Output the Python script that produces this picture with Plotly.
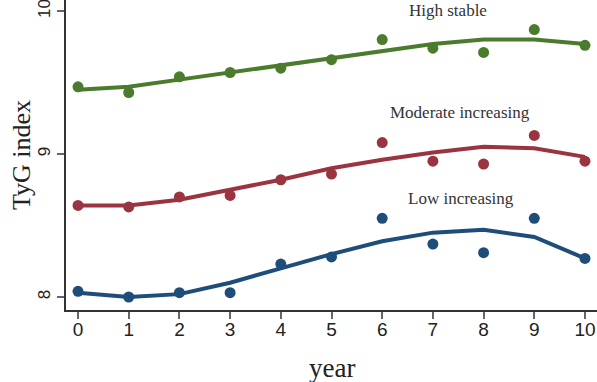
import plotly.graph_objects as go

years = list(range(11))

high_obs = [9.47, 9.43, 9.54, 9.57, 9.60, 9.66, 9.80, 9.74, 9.71, 9.87, 9.76]
high_fit = [9.45, 9.47, 9.52, 9.57, 9.62, 9.67, 9.72, 9.77, 9.80, 9.80, 9.77]

mod_obs = [8.64, 8.63, 8.70, 8.71, 8.82, 8.86, 9.08, 8.95, 8.93, 9.13, 8.95]
mod_fit = [8.64, 8.64, 8.68, 8.75, 8.82, 8.90, 8.96, 9.01, 9.05, 9.04, 8.98]

low_obs = [8.04, 8.00, 8.03, 8.03, 8.23, 8.28, 8.55, 8.37, 8.31, 8.55, 8.27]
low_fit = [8.03, 8.00, 8.02, 8.10, 8.20, 8.30, 8.39, 8.45, 8.47, 8.42, 8.27]

labels = ["High stable", "Moderate increasing", "Low increasing"]
label_x = [7.30, 7.53, 7.55]
label_y = [10.007, 9.287, 8.692]

colors = ["#4b7b2c", "#9b3441", "#1f4d7a"]

fig = go.Figure()
for obs, fit, c in [(high_obs, high_fit, colors[0]),
                    (mod_obs, mod_fit, colors[1]),
                    (low_obs, low_fit, colors[2])]:
    fig.add_trace(go.Scatter(x=years, y=fit, mode="lines",
                             line=dict(color=c, width=4), showlegend=False))
    fig.add_trace(go.Scatter(x=years, y=obs, mode="markers",
                             marker=dict(color=c, size=11), showlegend=False))

for t, x, y in zip(labels, label_x, label_y):
    fig.add_annotation(x=x, y=y, text=t, showarrow=False,
                       xanchor="center", yanchor="middle",
                       font=dict(family="Liberation Serif", size=17, color="#333"))

fig.add_annotation(xref="paper", yref="paper", x=0.501, y=0, yshift=-58,
                   xanchor="center", yanchor="middle",
                   text="year", showarrow=False,
                   font=dict(family="Liberation Serif", size=27, color="#222"))
fig.add_annotation(xref="paper", yref="paper", x=0, xshift=-45, y=0.5,
                   xanchor="center", yanchor="middle",
                   text="TyG index", showarrow=False, textangle=-90,
                   font=dict(family="Liberation Serif", size=26, color="#222"))

fig.update_layout(
    width=597, height=382,
    margin=dict(l=66, r=0, t=0, b=72, autoexpand=False),
    paper_bgcolor="white", plot_bgcolor="white",
    xaxis=dict(range=[-0.237, 10.237], tickvals=years, showgrid=False,
               zeroline=False, showline=True, linecolor="#333", linewidth=1.5,
               ticks="outside", ticklen=7, tickcolor="#666", tickwidth=1.5,
               automargin=False, ticklabelstandoff=-6, ticklabeloverflow="allow",
               tickfont=dict(family="Liberation Sans", size=19, color="#222")),
    yaxis=dict(range=[7.909, 10.077], tickvals=[8, 9, 10], showgrid=False,
               zeroline=False, showline=True, linecolor="#333", linewidth=1.5,
               ticks="outside", ticklen=7, tickcolor="#666", tickwidth=1.5,
               tickangle=-90, automargin=False, ticklabeloverflow="allow",
               tickfont=dict(family="Liberation Sans", size=17, color="#222")),
)

fig.write_html("out.html", config={"displayModeBar": False},
               post_script="document.body.style.margin='0';document.body.style.overflow='hidden';")
